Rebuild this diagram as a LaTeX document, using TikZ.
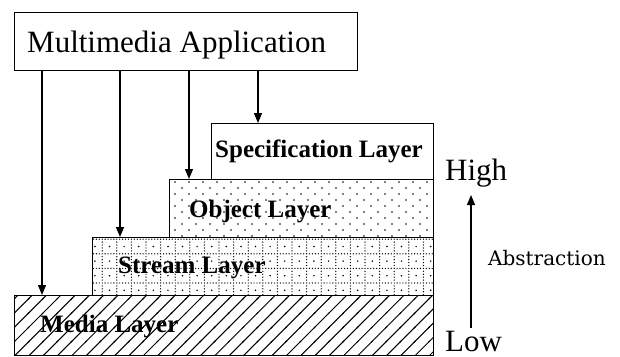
\documentclass[tikz,border=0pt]{standalone}
\usepackage{fontspec}
\setmainfont{Liberation Serif}
\newfontfamily\labelfont{DejaVu Serif}
\usetikzlibrary{arrows.meta,patterns}

% sparse staggered dots
\pgfdeclarepatternformonly{sparsedots}{\pgfpoint{-1pt}{-1pt}}{\pgfpoint{15pt}{13pt}}{\pgfpoint{14pt}{12pt}}{%
  \pgfpathcircle{\pgfpoint{0pt}{0pt}}{0.9pt}%
  \pgfpathcircle{\pgfpoint{7pt}{6pt}}{0.9pt}%
  \pgfusepath{fill}}

% dotted grid with a dot in each cell
\pgfdeclarepatternformonly{dotgrid}{\pgfpoint{-1pt}{-1pt}}{\pgfpoint{15.6pt}{15.6pt}}{\pgfpoint{14.6pt}{14.6pt}}{%
  \foreach \k in {0,1,2,3,4}{%
    \pgfpathcircle{\pgfpoint{\k*2.92pt}{0pt}}{0.7pt}%
    \pgfpathcircle{\pgfpoint{0pt}{\k*2.92pt}}{0.7pt}%
  }%
  \pgfpathcircle{\pgfpoint{7.3pt}{7.3pt}}{0.85pt}%
  \pgfusepath{fill}}

% diagonal hatching
\pgfdeclarepatternformonly{hatch}{\pgfpoint{-1pt}{-1pt}}{\pgfpoint{15.3pt}{15.3pt}}{\pgfpoint{14.3pt}{14.3pt}}{%
  \pgfsetlinewidth{1pt}%
  \pgfpathmoveto{\pgfpoint{-1pt}{-1pt}}%
  \pgfpathlineto{\pgfpoint{15.3pt}{15.3pt}}%
  \pgfusepath{stroke}}

\tikzset{
  box/.style={draw=black, line width=1.2pt, rectangle, inner sep=0pt, anchor=north west},
  layertext/.style={font=\fontsize{25}{25}\selectfont\bfseries, anchor=base west, inner sep=0pt},
  bigtext/.style={font=\fontsize{31}{31}\selectfont, anchor=base west, inner sep=0pt},
  arr/.style={line width=1.3pt, -{Triangle[length=10pt,width=8pt]}},
}

\begin{document}
\begin{tikzpicture}[x=1pt, y=-1pt]
  \useasboundingbox (0,0) rectangle (620,356);

  % application box
  \node[box, fill=white, minimum width=343pt, minimum height=58pt] (app) at (14,12) {};
  \node[bigtext] (apptext) at (27,52) {Multimedia Application};

  % stacked layers, bottom first
  \node[box, pattern=hatch, minimum width=419pt, minimum height=60pt] (media) at (14,295) {};
  \node[box, fill=white, minimum width=341pt, minimum height=58pt] (streambg) at (92,237) {};
  \node[box, pattern=dotgrid, minimum width=341pt, minimum height=58pt] (stream) at (92,237) {};
  \node[box, fill=white, minimum width=264pt, minimum height=58pt] (objectbg) at (169,179) {};
  \node[box, pattern=sparsedots, minimum width=264pt, minimum height=58pt] (object) at (169,179) {};
  \node[box, fill=white, minimum width=222pt, minimum height=56pt] (spec) at (211,123) {};

  \node[layertext] (spectext) at (215,157) {Specification Layer};
  \node[layertext] (objtext) at (189,217) {Object Layer};
  \node[layertext] (streamtext) at (118,273) {Stream Layer};
  \node[layertext] (mediatext) at (40,332) {Media Layer};

  % connectors from the application down to each layer
  \coordinate (a1) at ([xshift=28pt]app.south west);
  \coordinate (a2) at ([xshift=106pt]app.south west);
  \coordinate (a3) at ([xshift=175pt]app.south west);
  \coordinate (a4) at ([xshift=244pt]app.south west);
  \draw[arr] (a1) -- (a1 |- media.north);
  \draw[arr] (a2) -- (a2 |- stream.north);
  \draw[arr] (a3) -- (a3 |- object.north);
  \draw[arr] (a4) -- (a4 |- spec.north);

  % abstraction scale
  \node[bigtext] (high) at (445,180) {High};
  \node[bigtext] (low) at (445,351) {Low};
  \coordinate (abot) at (471,328);
  \coordinate (atop) at (471,195);
  \draw[arr] (abot) -- (atop);
  \node[font=\labelfont\fontsize{20}{20}\selectfont, anchor=west, inner sep=0pt] (abstr) at (488,258) {Abstraction};
\end{tikzpicture}
\end{document}
